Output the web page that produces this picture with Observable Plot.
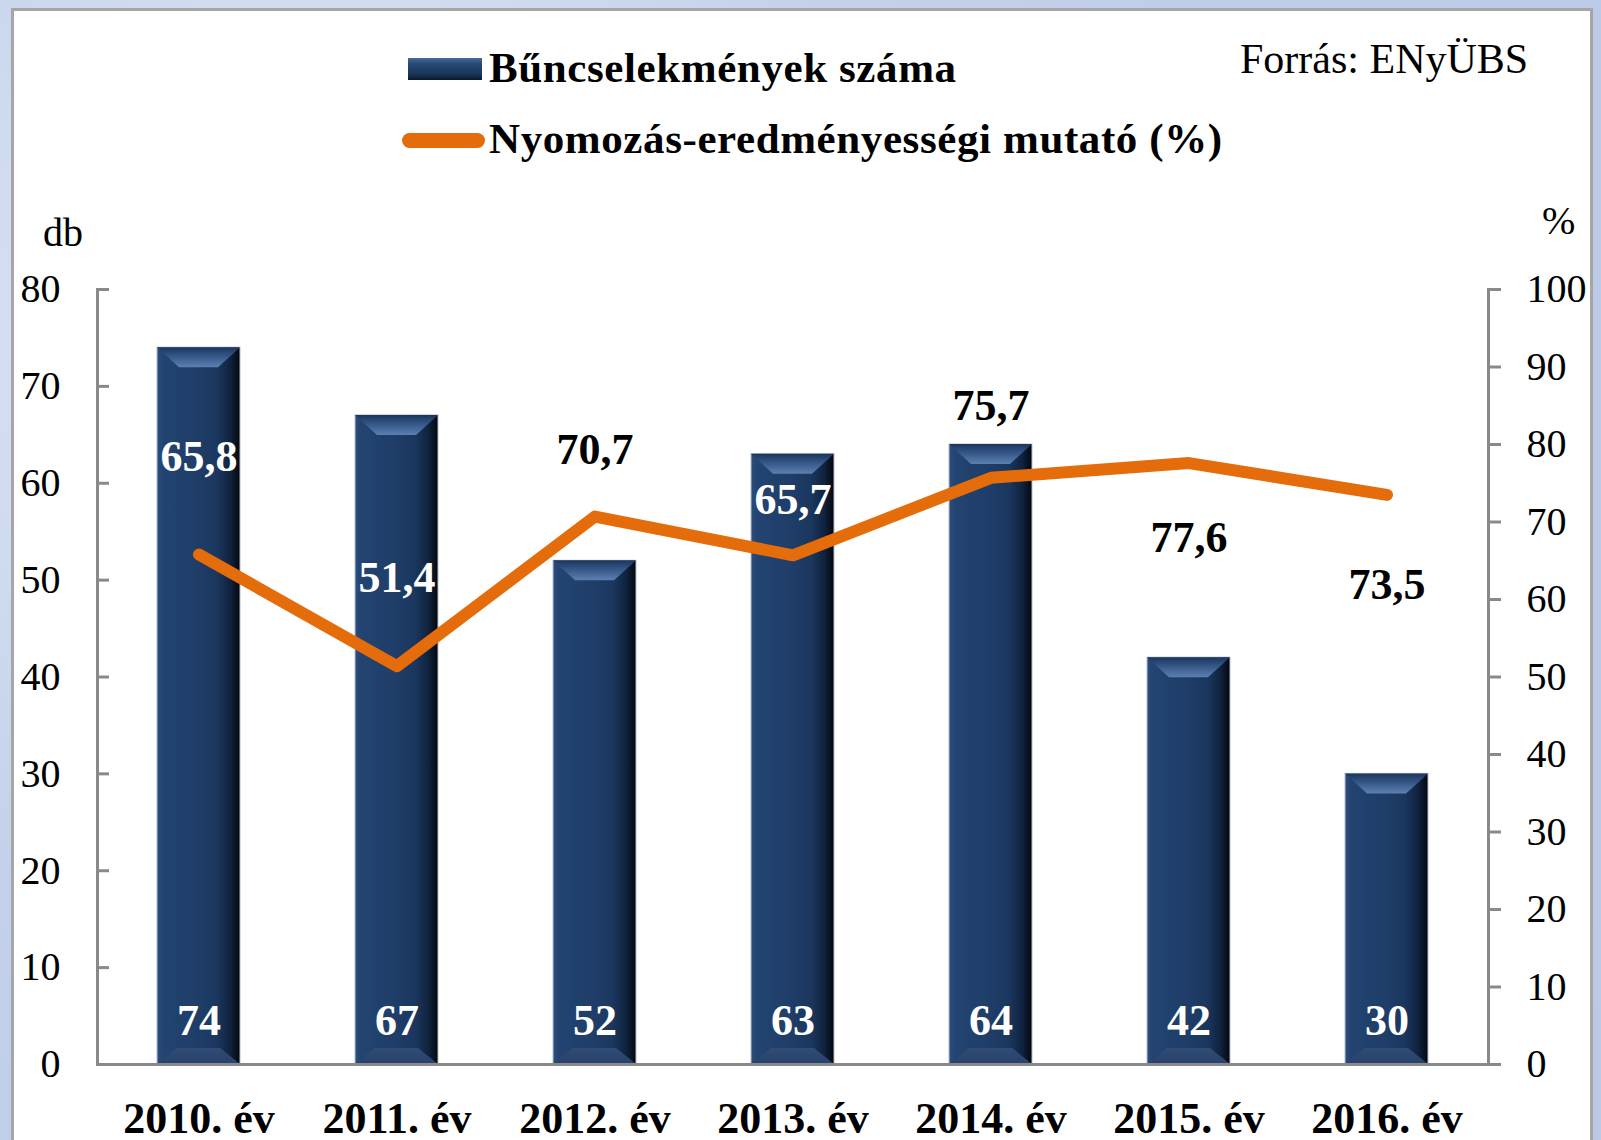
<!DOCTYPE html>
<html><head><meta charset="utf-8">
<script src="https://cdn.jsdelivr.net/npm/d3@7"></script>
<script src="https://cdn.jsdelivr.net/npm/@observablehq/plot@0.6"></script>
<style>
body{margin:0;width:1601px;height:1140px;overflow:hidden;position:relative;
 background:radial-gradient(circle at 20% 30%, #e4ebf6 0, #c3d1ea 40%, #b9c9e6 100%);
 font-family:"Liberation Serif","Times New Roman",serif;}
#frame{position:absolute;left:11px;top:8px;width:1576px;height:1160px;border:3px solid #a6a6a6;background:#fff;}
#chart{position:absolute;left:0;top:0;}
.t{position:absolute;white-space:nowrap;line-height:1;color:#000;}
#sw1{position:absolute;left:408px;top:58px;width:74px;height:22px;
 background:linear-gradient(to bottom,#4a6c9a 0,#2a4a77 25%,#1f3d68 55%,#16304f 80%,#0b1628 100%);}
#sw2{position:absolute;left:402px;top:133px;width:83px;height:15px;border-radius:8px;background:#E46C0A;}
</style></head><body>
<div id="frame"></div>
<div id="chart"></div>
<div id="sw1"></div>
<div id="sw2"></div>
<div class="t" style="left:489px;top:46px;font-size:43px;font-weight:bold;letter-spacing:0.6px">Bűncselekmények száma</div>
<div class="t" style="left:489px;top:117px;font-size:43px;font-weight:bold;letter-spacing:0.6px">Nyomozás-eredményességi mutató (%)</div>
<div class="t" style="left:1240px;top:38px;font-size:42px;">Forrás: ENyÜBS</div>
<div class="t" style="left:43px;top:213px;font-size:40px;">db</div>
<div class="t" style="left:1542px;top:201px;font-size:40px;">%</div>
<script>
const years = ["2010. év","2011. év","2012. év","2013. év","2014. év","2015. év","2016. év"];
const crimes = [74, 67, 52, 63, 64, 42, 30];
const rates = [65.8, 51.4, 70.7, 65.7, 75.7, 77.6, 73.5];
const leftTicks = [0,10,20,30,40,50,60,70,80];
const rightTicks = [0,10,20,30,40,50,60,70,80,90,100];

const data = years.map((year, i) => ({year, count: crimes[i], rate: rates[i]}));
const k = 80 / 100; // right axis (0–100 %) mapped onto left axis (0–80 db)

// label styling (offset in px from the line point, colour)
const rateLabelDy = [-98, -88, -67, -55, -72, 75, 90];
const rateLabelFill = ["white","white","black","white","black","black","black"];

const axisColor = "#898989";

function defs() {
  const d = d3.create("svg:defs");
  const h = d.append("linearGradient").attr("id","barGrad").attr("x1","0").attr("x2","1").attr("y1","0").attr("y2","0");
  [[0,"#2e4f7d"],[0.07,"#234471"],[0.45,"#1f3e69"],[0.72,"#1b375f"],[0.88,"#10233f"],[1,"#03070e"]]
    .forEach(([o,c]) => h.append("stop").attr("offset",o).attr("stop-color",c));
  const t = d.append("linearGradient").attr("id","topGrad").attr("x1","0").attr("x2","0").attr("y1","0").attr("y2","1");
  [[0,"#1c3459"],[0.3,"#2b4c7b"],[0.8,"#4d71a2"],[1,"#5c80b0"]]
    .forEach(([o,c]) => t.append("stop").attr("offset",o).attr("stop-color",c));
  const b = d.append("linearGradient").attr("id","botGrad").attr("x1","0").attr("x2","0").attr("y1","0").attr("y2","1");
  [[0,"#2f4c74"],[1,"#28426a"]]
    .forEach(([o,c]) => b.append("stop").attr("offset",o).attr("stop-color",c));
  return d.node();
}

function bevel(index, scales, values, dimensions, context, next) {
  const g = next(index, scales, values, dimensions, context);
  d3.select(g).selectAll("rect").each(function() {
    const r = d3.select(this);
    const x = +r.attr("x"), y = +r.attr("y"), w = +r.attr("width"), h = +r.attr("height");
    const c = 20, ins = 22, cb = 16, insb = 20;
    const p = d3.select(this.parentNode);
    p.append("path")
      .attr("d", `M${x},${y}L${x+w},${y}L${x+w-ins},${y+c}L${x+ins},${y+c}Z`)
      .attr("fill","url(#topGrad)").attr("stroke","none");
    p.append("path")
      .attr("d", `M${x+insb},${y+h-cb}L${x+w-insb},${y+h-cb}L${x+w},${y+h}L${x},${y+h}Z`)
      .attr("fill","url(#botGrad)").attr("stroke","none");
  });
  return g;
}

const marks = [
  defs,
  Plot.barY(data, {x: "year", y: "count", fill: "url(#barGrad)", stroke: "#b7bfcb", strokeWidth: 1, render: bevel}),
  Plot.frame({anchor: "left", stroke: axisColor, strokeWidth: 3}),
  Plot.frame({anchor: "right", stroke: axisColor, strokeWidth: 3}),
  Plot.ruleY([0], {stroke: axisColor, strokeWidth: 3, insetRight: -11}),
  Plot.axisY(leftTicks, {anchor: "left", tickSize: -12, tickPadding: 49, fontSize: 40, label: null,
    stroke: axisColor, strokeWidth: 3, fill: "black"}),
  Plot.axisY(rightTicks.map(t => t * k), {anchor: "right", tickSize: 12, tickPadding: 26, fontSize: 40, label: null,
    tickFormat: d => String(Math.round(d / k)), stroke: axisColor, strokeWidth: 3, fill: "black", textAnchor: "start"}),
  Plot.axisX({tickSize: 0, tickPadding: 37, fontSize: 44, fontWeight: "bold", label: null, fill: "black"}),
  Plot.line(data, {x: "year", y: d => d.rate * k, stroke: "#E46C0A", strokeWidth: 12,
    strokeLinejoin: "round", strokeLinecap: "round"}),
  Plot.text(data, {x: "year", frameAnchor: "bottom", dy: -30, text: d => String(d.count),
    fill: "white", fontSize: 44, fontWeight: "bold"}),
  ...data.map((d, i) => Plot.text([d], {x: "year", y: v => v.rate * k,
    text: v => v.rate.toFixed(1).replace(".", ","), dy: rateLabelDy[i], fill: rateLabelFill[i],
    fontSize: 44, fontWeight: "bold"}))
];

const chart = Plot.plot({
  width: 1601, height: 1140,
  marginLeft: 97, marginRight: 113, marginTop: 289, marginBottom: 76,
  style: {background: "transparent", fontFamily: "'Liberation Serif','Times New Roman',serif", color: "black", overflow: "visible"},
  x: {domain: years, paddingInner: 0.58, paddingOuter: 0.29, axis: null},
  y: {domain: [0, 80], axis: null},
  marks
});
document.getElementById("chart").appendChild(chart);
</script>
</body></html>
